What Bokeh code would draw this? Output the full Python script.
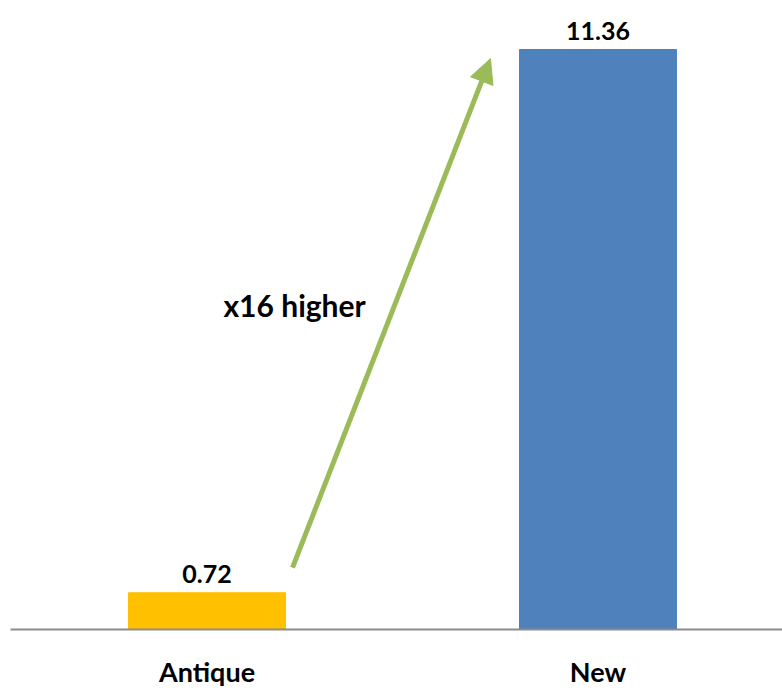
from bokeh.plotting import figure
from bokeh.models import Range1d, FixedTicker, Arrow, NormalHead, Label, ColumnDataSource
from bokeh.core.properties import value
from bokeh.embed import file_html
from bokeh.resources import INLINE

categories = ["Antique", "New"]
values = [0.72, 11.36]
colors = ["#FFC000", "#4F81BD"]
value_labels = ["0.72", "11.36"]
annotation_text = "x16 higher"

xs = list(range(len(categories)))
src = ColumnDataSource(dict(x=xs, top=values, color=colors, label=value_labels))

p = figure(width=782, height=690, output_backend="svg", toolbar_location=None,
           x_range=Range1d(-0.5026, 1.4719), y_range=Range1d(0, 12.32),
           min_border_left=10, min_border_right=0, min_border_top=0, min_border_bottom=60)

p.vbar(x="x", top="top", width=0.4015, bottom=0, color="color", source=src)

p.text(x="x", y="top", text="label", source=src, text_align="center", text_baseline="bottom",
       y_offset=-10, text_font=value("Lato"), text_font_style="bold", text_font_size="25px",
       text_color="#000000")

p.add_layout(Arrow(end=NormalHead(size=24, fill_color="#9BBB59", line_color="#9BBB59"),
                   x_start=0.2187, y_start=1.212, x_end=0.725, y_end=11.18,
                   line_color="#9BBB59", line_width=5))

p.add_layout(Label(x=0.224, y=6.355, text=annotation_text, text_align="center",
                   text_baseline="middle", text_font="Lato", text_font_style="bold",
                   text_font_size="30px", text_color="#000000"))

p.yaxis.visible = False
p.xgrid.visible = False
p.ygrid.visible = False
p.outline_line_color = None
p.xaxis.ticker = FixedTicker(ticks=xs)
p.xaxis.major_label_overrides = {i: c for i, c in zip(xs, categories)}
p.xaxis.axis_line_color = "#8C8C8C"
p.xaxis.axis_line_width = 2
p.xaxis.major_tick_line_color = None
p.xaxis.minor_tick_line_color = None
p.xaxis.major_tick_out = 0
p.xaxis.major_label_standoff = 25
p.xaxis.major_label_text_font = "Lato"
p.xaxis.major_label_text_font_style = "bold"
p.xaxis.major_label_text_font_size = "27px"
p.xaxis.major_label_text_color = "#000000"

open("out.html", "w").write(file_html(p, INLINE))
